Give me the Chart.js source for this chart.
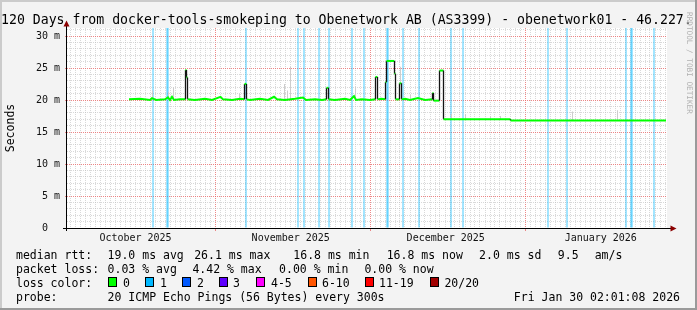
<!DOCTYPE html>
<html><head><meta charset="utf-8">
<script src="https://cdn.jsdelivr.net/npm/chart.js@4.4.1/dist/chart.umd.min.js"></script>
<style>html,body{margin:0;padding:0;background:#f3f3f3;overflow:hidden}canvas{display:block}</style>
</head><body>
<canvas id="c" width="697" height="310"></canvas>
<script>
// ---------- data (x = days since start of the 120-day window, y = milliseconds) ----------
const titleText = '120 Days from docker-tools-smokeping to Obenetwork AB (AS3399) - obenetwork01 - 46.227.';
const yLabelValues = [0, 5, 10, 15, 20, 25, 30];
const monthLabels = ['October 2025', 'November 2025', 'December 2025', 'January 2026'];
const monthLabelDays = [13.7, 44.75, 75.75, 106.75];
const monthStartDays = [29.6, 60.6, 91.6];

const medianDays = [12.4, 14.6, 16.6, 17.0, 17.8, 19.6, 20.2, 20.6, 21.0, 21.4, 22.6,
  23.7, 23.7, 23.9, 23.9, 24.1, 24.1,
  25.6, 27.6, 29.0, 30.7, 31.2, 33.0, 34.6,
  35.5, 35.5, 35.9, 35.9,
  36.6, 38.6, 40.2, 41.4, 42.0, 43.6, 45.6, 47.2, 47.8, 49.6, 51.0,
  51.9, 51.9, 52.3, 52.3,
  53.6, 55.6, 56.6, 57.4, 57.8, 59.0, 60.6,
  61.7, 61.7, 62.1, 62.1,
  62.8,
  63.7, 63.7, 63.9, 63.9, 65.5, 65.5, 65.7, 65.7,
  66.5, 66.5, 66.9, 66.9,
  67.6, 68.6, 70.2, 71.6,
  73.1, 73.1, 73.3, 73.3,
  74.5, 74.5, 75.3, 75.3,
  88.7, 88.7, 119.8];
const medianMs = [20.1, 20.2, 20.0, 20.3, 20.0, 20.1, 20.4, 20.0, 20.5, 20.0, 20.1,
  20.1, 24.7, 24.7, 23.5, 23.5, 20.1,
  20.0, 20.2, 20.0, 20.5, 20.1, 20.0, 20.2,
  20.1, 22.5, 22.5, 20.1,
  20.0, 20.2, 20.0, 20.5, 20.1, 20.0, 20.2, 20.4, 20.0, 20.1, 20.0,
  20.1, 21.9, 21.9, 20.1,
  20.0, 20.2, 20.0, 20.6, 20.0, 20.1, 20.0,
  20.1, 23.6, 23.6, 20.1,
  20.2,
  20.1, 22.8, 22.8, 26.1, 26.1, 24.1, 24.1, 20.1,
  20.1, 22.6, 22.6, 20.1,
  20.2, 20.0, 20.3, 20.0,
  20.1, 21.1, 21.1, 19.9,
  19.9, 24.6, 24.6, 17.0,
  17.0, 16.8, 16.8];

const lossDays = [17.2, 20.0, 20.2, 35.8, 46.2, 47.4, 50.4, 52.4, 57.0, 59.4,
  64.0, 64.2, 67.2, 70.4, 76.8, 79.2, 96.2, 100.0, 111.8, 112.8, 113.0, 117.4];
const lossCounts = [1, 1, 1, 1, 1, 1, 1, 1, 1, 1, 1, 1, 1, 1, 1, 1, 1, 1, 1, 1, 1, 1];

const smokeDays = [17.1, 20.3, 21.3, 34.5, 43.5, 44.1, 44.7, 57.7, 66.7, 68.7, 76.9, 79.7, 84.7, 86.7, 101.1, 110.1];
const smokeLow  = [20.0, 20.0, 20.0, 20.0, 20.0, 20.0, 20.0, 20.0, 22.6, 20.0, 17.0, 17.0, 17.0, 17.0, 16.8, 16.8];
const smokeHigh = [21.5, 21.3, 22.0, 21.0, 22.5, 21.5, 25.2, 22.1, 25.2, 20.8, 17.8, 17.8, 17.5, 17.5, 18.2, 18.4];

const lossLegendLabels = ['0', '1', '2', '3', '4-5', '6-10', '11-19', '20/20'];
const lossLegendColors = ['#00ff00', '#00b8ff', '#0059ff', '#5e00ff', '#ff00ff', '#ff5500', '#ff0000', '#a10000'];

const statsMedian = ['median rtt:', '19.0 ms avg', '26.1 ms max', '16.8 ms min', '16.8 ms now', '2.0 ms sd', '9.5', 'am/s'];
const statsLoss = ['packet loss:', '0.03 % avg', '4.42 % max', '0.00 % min', '0.00 % now'];
const probeText = ['probe:', '20 ICMP Echo Pings (56 Bytes) every 300s'];
const dateText = 'Fri Jan 30 02:01:08 2026';

// ---------- styling / layout ----------
const MONO = '"DejaVu Sans Mono", monospace';
const MAJOR = 'rgba(232,96,96,0.75)';
const MINOR = 'rgba(185,185,185,0.55)';

function hexToRgba(h, a) {
  const n = parseInt(h.slice(1), 16);
  return 'rgba(' + (n >> 16 & 255) + ',' + (n >> 8 & 255) + ',' + (n & 255) + ',' + a + ')';
}

const medianData = medianDays.map((d, i) => ({x: d, y: medianMs[i]}));
const lossData = lossDays.map((d) => ({x: d, y: [0, 31.25]}));
const smokeData = smokeDays.map((d, i) => ({x: d, y: [smokeLow[i], smokeHigh[i]]}));

function buildXTicks(scale) {
  const t = [];
  const off = monthStartDays[0] - Math.floor(monthStartDays[0]);
  for (let k = 0; k < 120; k++) {
    const v = Math.round((off + k) * 10) / 10;
    if (monthStartDays.some(m => Math.abs(m - v) < 0.01)) continue;
    t.push({value: v, kind: 'minor'});
  }
  monthStartDays.forEach(v => t.push({value: v, kind: 'major'}));
  monthLabelDays.forEach((v, i) => t.push({value: v, kind: 'label', text: monthLabels[i]}));
  t.sort((a, b) => a.value - b.value);
  scale.ticks = t;
}
function buildYTicks(scale) {
  const t = [];
  for (let v = 0; v <= 31; v++) {
    const lab = yLabelValues.indexOf(v) >= 0;
    t.push({value: v, kind: lab ? 'major' : 'minor', text: lab ? (v === 0 ? '0  ' : v + ' m') : ''});
  }
  scale.ticks = t;
}

const decor = {
  id: 'decor',
  beforeDraw(chart) {
    const {ctx, chartArea: a} = chart;
    ctx.save();
    ctx.fillStyle = '#f3f3f3'; ctx.fillRect(0, 0, 697, 310);
    ctx.fillStyle = '#cbcbcb'; ctx.fillRect(0, 0, 697, 2); ctx.fillRect(0, 0, 2, 310);
    ctx.fillStyle = '#9a9a9a'; ctx.fillRect(0, 308, 697, 2); ctx.fillRect(695, 0, 2, 310);
    ctx.fillStyle = '#ffffff'; ctx.fillRect(a.left, a.top, a.right - a.left, a.bottom - a.top);
    ctx.restore();
  },
  afterDraw(chart) {
    const {ctx, chartArea: a} = chart;
    ctx.save();
    // axes
    ctx.strokeStyle = '#000'; ctx.lineWidth = 1;
    ctx.beginPath();
    ctx.moveTo(63, a.bottom + 0.5); ctx.lineTo(671, a.bottom + 0.5);
    ctx.moveTo(a.left - 0.5, a.bottom + 3); ctx.lineTo(a.left - 0.5, a.top - 2);
    ctx.stroke();
    ctx.fillStyle = '#8b0000';
    ctx.beginPath(); ctx.moveTo(670.5, a.bottom - 2.5); ctx.lineTo(676.5, a.bottom + 0.5); ctx.lineTo(670.5, a.bottom + 3.5); ctx.closePath(); ctx.fill();
    ctx.beginPath(); ctx.moveTo(a.left - 3.5, a.top - 1.5); ctx.lineTo(a.left - 0.5, a.top - 7.5); ctx.lineTo(a.left + 2.5, a.top - 1.5); ctx.closePath(); ctx.fill();

    // title
    ctx.fillStyle = '#000';
    ctx.textBaseline = 'alphabetic'; ctx.textAlign = 'left';
    ctx.font = '13.2px ' + MONO;
    ctx.fillText(titleText, 1, 24);

    // watermark
    ctx.save();
    ctx.translate(688.5, 12);
    ctx.rotate(Math.PI / 2);
    ctx.font = '7.7px ' + MONO;
    ctx.fillStyle = '#b0b0b0';
    ctx.textBaseline = 'middle';
    ctx.fillText('RRDTOOL / TOBI OETIKER', 0, 0);
    ctx.restore();

    // legend
    ctx.font = '11.5px ' + MONO;
    ctx.fillStyle = '#000';
    ctx.textBaseline = 'alphabetic';
    const r1 = 258.5, r2 = 272.5, r3 = 286.5, r4 = 300.5;
    const x1 = [16, 107.6, 194.2, 293.3, 386.7, 479.1, 557.8, 594.7];
    statsMedian.forEach((s, i) => ctx.fillText(s, x1[i], r1));
    const x2 = [16, 107.6, 192.4, 279.1, 364.4];
    statsLoss.forEach((s, i) => ctx.fillText(s, x2[i], r2));
    ctx.fillText('loss color:', 16, r3);
    const bx = [108, 145, 182, 219, 256, 308, 365, 430];
    const lx = [123, 160, 197, 233, 271, 322, 379, 444.4];
    lossLegendLabels.forEach((s, i) => {
      ctx.fillStyle = lossLegendColors[i];
      ctx.fillRect(bx[i], 277, 9, 10);
      ctx.strokeStyle = '#000';
      ctx.strokeRect(bx[i] + 0.5, 277.5, 8, 9);
      ctx.fillStyle = '#000';
      ctx.fillText(s, lx[i], r3);
    });
    ctx.fillText(probeText[0], 16, r4);
    ctx.fillText(probeText[1], 107.6, r4);
    ctx.textAlign = 'right';
    ctx.fillText(dateText, 680, r4);
    ctx.restore();
  }
};

new Chart(document.getElementById('c'), {
  type: 'bar',
  data: {
    datasets: [
      {
        type: 'line', label: 'median rtt', data: medianData, order: 0,
        borderColor: '#00ff00', borderWidth: 2, pointRadius: 0, tension: 0,
        segment: {
          borderColor: c => c.p0.parsed.x === c.p1.parsed.x ? '#141414' : '#00ff00',
          borderWidth: c => c.p0.parsed.x === c.p1.parsed.x ? 1.3 : 2
        }
      },
      {
        type: 'bar', label: 'smoke', data: smokeData, order: 1, grouped: false,
        backgroundColor: '#cdcdcd', barThickness: 1, borderWidth: 0, inflateAmount: 0
      },
      {
        type: 'bar', label: 'loss', data: lossData, order: 2, grouped: false,
        backgroundColor: lossCounts.map(n => hexToRgba(lossLegendColors[Math.min(n, 7)], 0.36)),
        barThickness: 2, borderWidth: 0, inflateAmount: 0
      }
    ]
  },
  options: {
    responsive: false, animation: false, devicePixelRatio: 1,
    layout: {padding: {left: 0, right: 30, top: 28, bottom: 62}},
    plugins: {legend: {display: false}, tooltip: {enabled: false}, title: {display: false}},
    scales: {
      x: {
        type: 'linear', min: 0, max: 120, offset: false,
        afterBuildTicks: buildXTicks,
        afterFit: s => { s.height = 20; },
        grid: {
          offset: false, drawOnChartArea: true, drawTicks: true, tickLength: 3, lineWidth: 1,
          color: c => c.tick && c.tick.kind === 'major' ? MAJOR : (c.tick && c.tick.kind === 'minor' ? MINOR : 'rgba(0,0,0,0)'),
          tickColor: c => c.tick && c.tick.kind === 'major' ? MAJOR : 'rgba(0,0,0,0)'
        },
        border: {display: false, dash: [1, 1]},
        ticks: {
          autoSkip: false, maxRotation: 0, minRotation: 0, padding: 1,
          font: {family: MONO, size: 10}, color: '#111',
          callback: (v, i, t) => t[i].kind === 'label' ? t[i].text : ''
        }
      },
      y: {
        type: 'linear', min: 0, max: 31.25,
        afterBuildTicks: buildYTicks,
        afterFit: s => { s.width = 67; },
        grid: {
          drawTicks: true, tickLength: 2, lineWidth: 1,
          color: c => c.tick && c.tick.kind === 'major' ? MAJOR : MINOR,
          tickColor: c => c.tick && c.tick.kind === 'major' ? MAJOR : 'rgba(0,0,0,0)'
        },
        border: {display: false, dash: [1, 1]},
        ticks: {
          autoSkip: false, padding: 5,
          font: {family: MONO, size: 10}, color: '#111',
          callback: (v, i, t) => t[i].text
        },
        title: {display: true, text: 'Seconds', color: '#000', font: {family: MONO, size: 11.5}, padding: {top: 4, bottom: 0}}
      }
    }
  },
  plugins: [decor]
});
</script>
</body></html>
